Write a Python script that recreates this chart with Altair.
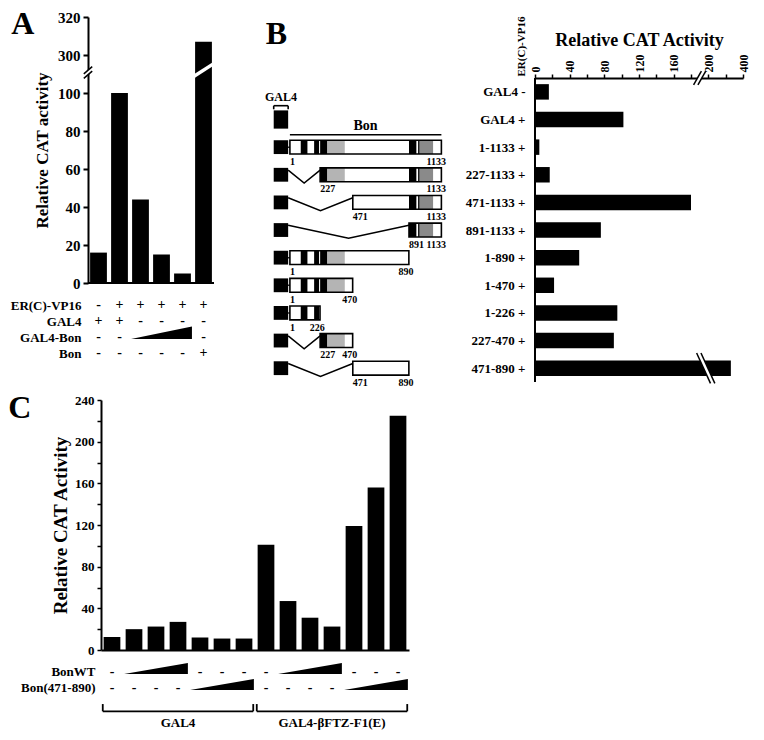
import json
import altair as alt
import pandas as pd

FONT = "Liberation Serif"

# ---------------- Panel A data ----------------
A_LANES = [1, 2, 3, 4, 5, 6]
A_VALUES = [16, 100, 44, 15, 5, 307]
A_ROW_NAMES = ["ER(C)-VP16", "GAL4", "GAL4-Bon", "Bon"]
A_SIGNS = [
    ["-", "+", "+", "+", "+", "+"],
    ["+", "+", "-", "-", "-", "-"],
    ["-", "-", "", "", "", "-"],
    ["-", "-", "-", "-", "-", "+"],
]
A_WEDGES = [(2, 3, 5)]          # (row, first lane, last lane)
A_TICK_LABELS = [0, 20, 40, 60, 80, 100, 300, 320]

# ---------------- Panel B data ----------------
B_NAMES = ["GAL4", "GAL4", "1-1133", "227-1133", "471-1133", "891-1133",
           "1-890", "1-470", "1-226", "227-470", "471-890"]
B_VP16 = ["-", "+", "+", "+", "+", "+", "+", "+", "+", "+", "+"]
B_VALUES = [16, 102, 5, 17, 180, 76, 51, 22, 95, 91, 330]
B_START = [None, None, 1, 227, 471, 891, 1, 1, 1, 227, 471]
B_END = [None, None, 1133, 1133, 1133, 1133, 890, 470, 226, 470, 890]
BON_LENGTH = 1133
DOM_START = [82, 182, 227, 281, 891, 959, 971]
DOM_END = [132, 219, 281, 411, 946, 971, 1071]
DOM_KIND = ["solid", "solid", "solid", "light", "solid", "solid", "dark"]
B_TICK_LABELS = [0, 40, 80, 120, 160, 200, 400]

# ---------------- Panel C data ----------------
C_LANES = list(range(1, 15))
C_VALUES = [12.5, 20, 22.5, 27, 12, 11, 11, 101, 47, 31, 22.5, 119, 156, 225]
C_ROW_NAMES = ["BonWT", "Bon(471-890)"]
C_SIGNS = [
    ["-", "", "", "", "-", "-", "-", "-", "", "", "", "-", "-", "-"],
    ["-", "-", "-", "-", "", "", "", "-", "-", "-", "-", "", "", ""],
]
C_WEDGES = [(0, 2, 4), (0, 9, 11), (1, 5, 7), (1, 12, 14)]
C_GROUPS = ["GAL4", "GAL4-\u03b2FTZ-F1(E)"]
C_GROUP_FIRST = [1, 8]
C_GROUP_LAST = [7, 14]


def arr(lst):
    return json.dumps(lst, ensure_ascii=False)


def text_mark(size, **kw):
    return dict(font=FONT, fontWeight="bold", fontSize=size, color="black", **kw)


def sign_frame(signs, lanes):
    recs = []
    for r, row in enumerate(signs):
        for lane, s in zip(lanes, row):
            if s:
                recs.append({"lane": lane, "row": r, "sign": s})
    return pd.DataFrame(recs)


def wedge_frame(wedges, lo, hi):
    recs = []
    for k, (r, a, b) in enumerate(wedges):
        recs.append({"id": k, "x": a - 0.45, "lo": r + lo, "hi": r + lo})
        recs.append({"id": k, "x": b + 0.45, "lo": r + lo, "hi": r - hi})
    return pd.DataFrame(recs)


def seg_layer(df, xs, ys, xax, yax, color, width):
    return alt.Chart(df).mark_rule(color=color, strokeWidth=width, strokeCap="butt").encode(
        x=alt.X("x:Q", scale=xs, axis=xax), x2="x2",
        y=alt.Y("y:Q", scale=ys, axis=yax), y2="y2")


def panel_letter(letter, offset):
    return alt.TitleParams(letter, orient="left", anchor="end", angle=0, align="right",
                           baseline="alphabetic", dy=24, fontSize=32, offset=offset)


# ======================= Panel A =======================
A_SHIFT, A_CUT = 180, 200
A_BREAK = 110.8
A_LANE_PX = 21          # horizontal size of one lane
A_AXIS_GAP = 13         # axis sits this many px left of the shared plot origin
a_disp = lambda v: v - A_SHIFT if v > A_CUT else v
A_TICKS_D = [a_disp(t) for t in A_TICK_LABELS]
A_X0 = 0.5 + A_AXIS_GAP / A_LANE_PX
xA = alt.Scale(domain=[A_X0, len(A_LANES) + 0.5], nice=False, zero=False)
yA = alt.Scale(domain=[0, max(A_TICKS_D)], nice=False, zero=False)
AW = round((len(A_LANES) + 0.5 - A_X0) * A_LANE_PX)
AH = 266
A_YAX = alt.Axis(
    values=A_TICKS_D, offset=A_AXIS_GAP,
    labelExpr=f"'' + (datum.value > {A_BREAK} ? datum.value + {A_SHIFT} : datum.value)",
    title="Relative CAT activity", titleFontSize=17, titlePadding=6,
    labelFontSize=15, labelPadding=3, tickSize=5, tickWidth=2, domainWidth=2)

dfA = pd.DataFrame({"lane": A_LANES, "value": A_VALUES})
a_bars = alt.Chart(dfA).transform_calculate(
    x="datum.lane - 0.4", x2="datum.lane + 0.4", y2="0",
    y=f"datum.value > {A_CUT} ? datum.value - {A_SHIFT} : datum.value",
).mark_rect(color="black").encode(
    x=alt.X("x:Q", scale=xA, axis=None), x2="x2",
    y=alt.Y("y:Q", scale=yA, axis=A_YAX), y2="y2",
)
a_base = pd.DataFrame({"x": [0.5], "x2": [len(A_LANES) + 0.5], "y": [0], "y2": [0]})
a_white = pd.DataFrame({"x": [0.3, 5.55], "x2": [0.7, 6.45],
                        "y": [A_BREAK - 1.9, 108.8], "y2": [A_BREAK + 1.9, 115.2]})
a_black = pd.DataFrame({"x": [0.3, 0.3], "x2": [0.7, 0.7],
                        "y": [A_BREAK - 3.1, A_BREAK - 0.7], "y2": [A_BREAK + 0.7, A_BREAK + 3.1]})
a_top = alt.layer(
    a_bars,
    seg_layer(a_base, xA, yA, None, A_YAX, "black", 2),
    seg_layer(a_white, xA, yA, None, A_YAX, "white", 3.5),
    seg_layer(a_black, xA, yA, None, A_YAX, "black", 1.5),
).properties(width=AW, height=AH, title=panel_letter("A", -24))

yAt = alt.Scale(domain=[-0.5, len(A_ROW_NAMES) - 0.5], reverse=True, nice=False, zero=False)
A_TAX = alt.Axis(values=list(range(len(A_ROW_NAMES))), labelExpr=f"{arr(A_ROW_NAMES)}[datum.value]",
                 domain=False, ticks=False, title=None, labelFontSize=13, labelPadding=20)
a_signs = alt.Chart(sign_frame(A_SIGNS, A_LANES)).mark_text(**text_mark(14)).encode(
    x=alt.X("lane:Q", scale=xA, axis=None),
    y=alt.Y("row:Q", scale=yAt, axis=A_TAX),
    text="sign:N",
)
a_wedge = alt.Chart(wedge_frame(A_WEDGES, 0.12, 0.65)).mark_area(color="black").encode(
    x=alt.X("x:Q", scale=xA, axis=None),
    y=alt.Y("lo:Q", scale=yAt, axis=A_TAX), y2="hi", detail="id:N")
a_table = alt.layer(a_signs, a_wedge).properties(width=AW, height=64)

a_col = alt.vconcat(a_top, a_table, spacing=6)

# ======================= Panel B =======================
NROW = len(B_NAMES)
ROW_PX = 27.6
HEAD_PX = 61            # header strip above the first row (titles, top axis)
HEAD_ROWS = HEAD_PX / ROW_PX
BH = round(NROW * ROW_PX + HEAD_PX)
yRows = alt.Scale(domain=[-0.5 - HEAD_ROWS, NROW - 0.5], reverse=True, nice=False, zero=False)

# ---- construct diagram ----
GAL4_L, GAL4_R = -120, -12
D_LEFT, D_RIGHT = -200, 1160
xD = alt.Scale(domain=[D_LEFT, D_RIGHT], nice=False, zero=False)
DW = round((D_RIGHT - D_LEFT) * 152 / BON_LENGTH)
diag_rows = [i for i, s in enumerate(B_START) if s is not None]
alone_row = [i for i, s in enumerate(B_START) if s is None][-1]

box_df = pd.DataFrame({"row": diag_rows,
                       "s": [B_START[i] for i in diag_rows],
                       "e": [B_END[i] for i in diag_rows]})
box_df["y1"] = box_df["row"] - 0.25
box_df["y2"] = box_df["row"] + 0.25

dom_recs = []
for i in diag_rows:
    for s, e, k in zip(DOM_START, DOM_END, DOM_KIND):
        s2, e2 = max(s, B_START[i]), min(e, B_END[i])
        if s2 < e2:
            dom_recs.append({"row": i, "s": s2, "e": e2, "kind": k,
                             "y1": i - 0.25, "y2": i + 0.25})
dom_df = pd.DataFrame(dom_recs)

con_recs = []
for i in diag_rows:
    s = B_START[i]
    if s <= 1:
        pts = [(GAL4_R, i), (s, i)]
    else:
        pts = [(GAL4_R, i - 0.17), ((GAL4_R + s) / 2, i + 0.3), (s, i - 0.17)]
    for k, (x, y) in enumerate(pts):
        con_recs.append({"id": i, "k": k, "x": x, "y": y})
con_df = pd.DataFrame(con_recs)

sq_recs = [{"x": GAL4_L, "x2": GAL4_R, "y": i - 0.25, "y2": i + 0.25} for i in diag_rows]
sq_recs.append({"x": GAL4_L, "x2": GAL4_R, "y": alone_row - 0.33, "y2": alone_row + 0.33})
sq_df = pd.DataFrame(sq_recs)

start_lab = pd.DataFrame({"x": [B_START[i] for i in diag_rows],
                          "y": [i + 0.53 for i in diag_rows],
                          "t": [str(B_START[i]) for i in diag_rows]})
end_lab = pd.DataFrame({"x": [B_END[i] + 35 for i in diag_rows],
                        "y": [i + 0.53 for i in diag_rows],
                        "t": [str(B_END[i]) for i in diag_rows]})

first = diag_rows[0]
lines_df = pd.DataFrame({
    "x": [1, GAL4_L, GAL4_L, GAL4_R],
    "x2": [BON_LENGTH, GAL4_R, GAL4_L, GAL4_R],
    "y": [first - 0.45, alone_row - 0.5, alone_row - 0.5, alone_row - 0.5],
    "y2": [first - 0.45, alone_row - 0.5, alone_row - 0.37, alone_row - 0.37],
})
head_lab = pd.DataFrame({"x": [BON_LENGTH / 2, (GAL4_L + GAL4_R) / 2],
                         "y": [first - 0.75, alone_row - 0.8],
                         "t": ["Bon", "GAL4"], "s": [14, 12]})
letter_b = pd.DataFrame({"x": [GAL4_L - 60], "y": [-0.5 - HEAD_ROWS + 0.62], "t": ["B"]})

d_dom = alt.Chart(dom_df).mark_rect().encode(
    x=alt.X("s:Q", scale=xD, axis=None), x2="e",
    y=alt.Y("y1:Q", scale=yRows, axis=None), y2="y2",
    color=alt.Color("kind:N", legend=None, scale=alt.Scale(
        domain=["solid", "light", "dark"], range=["black", "#b4b4b4", "#8a8a8a"])))
d_box = alt.Chart(box_df).mark_rect(fillOpacity=0, stroke="black", strokeWidth=1.6).encode(
    x=alt.X("s:Q", scale=xD, axis=None), x2="e",
    y=alt.Y("y1:Q", scale=yRows, axis=None), y2="y2")
d_con = alt.Chart(con_df).mark_line(color="black", strokeWidth=1.5).encode(
    x=alt.X("x:Q", scale=xD, axis=None), y=alt.Y("y:Q", scale=yRows, axis=None),
    detail="id:N", order="k:Q")
d_sq = alt.Chart(sq_df).mark_rect(color="black").encode(
    x=alt.X("x:Q", scale=xD, axis=None), x2="x2",
    y=alt.Y("y:Q", scale=yRows, axis=None), y2="y2")
d_lines = alt.Chart(lines_df).mark_rule(color="black", strokeWidth=1.6).encode(
    x=alt.X("x:Q", scale=xD, axis=None), x2="x2",
    y=alt.Y("y:Q", scale=yRows, axis=None), y2="y2")
d_start = alt.Chart(start_lab).mark_text(**text_mark(10, align="left")).encode(
    x=alt.X("x:Q", scale=xD, axis=None), y=alt.Y("y:Q", scale=yRows, axis=None), text="t:N")
d_end = alt.Chart(end_lab).mark_text(**text_mark(10, align="right")).encode(
    x=alt.X("x:Q", scale=xD, axis=None), y=alt.Y("y:Q", scale=yRows, axis=None), text="t:N")
d_head = alt.Chart(head_lab).mark_text(font=FONT, fontWeight="bold", color="black").encode(
    x=alt.X("x:Q", scale=xD, axis=None), y=alt.Y("y:Q", scale=yRows, axis=None), text="t:N",
    size=alt.Size("s:Q", scale=None, legend=None))
d_letter = alt.Chart(letter_b).mark_text(**text_mark(32, align="left")).encode(
    x=alt.X("x:Q", scale=xD, axis=None), y=alt.Y("y:Q", scale=yRows, axis=None), text="t:N")

b_diag = alt.layer(d_con, d_dom, d_box, d_sq, d_lines, d_start, d_end, d_head, d_letter).properties(
    width=DW, height=BH)

# ---- bar chart ----
B_CUT, B_COMP = 200, 0.2
b_disp = lambda v: v if v <= B_CUT else B_CUT + (v - B_CUT) * B_COMP
B_TICK_VALUES = [b_disp(v) for v in list(range(0, B_CUT + 1, 20)) + [300, 400]]
B_LABEL_POS = [b_disp(v) for v in B_TICK_LABELS]
xB = alt.Scale(domain=[0, b_disp(max(B_TICK_LABELS))], nice=False, zero=False)
B_ROW_LABELS = [f"{n} {s}" for n, s in zip(B_NAMES, B_VP16)]
B_XAX = alt.Axis(
    orient="top", values=B_TICK_VALUES, offset=-HEAD_PX,
    labelExpr=(f"indexof({arr(B_LABEL_POS)}, datum.value) >= 0 ? '' + "
               f"(datum.value > {B_CUT} ? round({B_CUT} + (datum.value - {B_CUT}) / {B_COMP}) "
               f": datum.value) : ''"),
    labelAngle=270, labelAlign="left", labelBaseline="middle", labelFontSize=12,
    labelPadding=2, tickSize=4, tickWidth=1.5, domainWidth=2,
    title="Relative CAT Activity", titleFontSize=18, titlePadding=5)
B_YAX = alt.Axis(
    values=list(range(NROW)), labelExpr=f"{arr(B_ROW_LABELS)}[datum.value]",
    ticks=False, domain=False, labelFontSize=13, labelPadding=10,
    title="ER(C)-VP16", titleAngle=270, titleX=-14, titleY=HEAD_PX - 2,
    titleAlign="left", titleBaseline="middle", titleFontSize=11)

dfB = pd.DataFrame({"row": list(range(NROW)), "value": B_VALUES})
b_main = alt.Chart(dfB).transform_calculate(
    x="0",
    x2=f"datum.value > {B_CUT} ? {B_CUT} + (datum.value - {B_CUT}) * {B_COMP} : datum.value",
    y="datum.row - 0.28", y2="datum.row + 0.28",
).mark_rect(color="black").encode(
    x=alt.X("x:Q", scale=xB, axis=B_XAX), x2="x2",
    y=alt.Y("y:Q", scale=yRows, axis=B_YAX), y2="y2",
)
b_axis_line = pd.DataFrame({"x": [0], "x2": [0], "y": [-0.5], "y2": [NROW - 0.5]})
BX, BB = 190, 197
b_white = pd.DataFrame({"x": [BX - 4.5, BB - 8], "x2": [BX + 4.5, BB + 8],
                        "y": [-0.25, NROW - 1.55], "y2": [-0.75, NROW - 0.45]})
b_black = pd.DataFrame({
    "x": [BX - 7, BX - 2, BB - 10.5, BB - 5.5],
    "x2": [BX + 2, BX + 7, BB + 5.5, BB + 10.5],
    "y": [-0.25, -0.25, NROW - 1.55, NROW - 1.55],
    "y2": [-0.75, -0.75, NROW - 0.45, NROW - 0.45]})
b_bars = alt.layer(
    b_main,
    seg_layer(b_axis_line, xB, yRows, B_XAX, B_YAX, "black", 2),
    seg_layer(b_white, xB, yRows, B_XAX, B_YAX, "white", 4),
    seg_layer(b_black, xB, yRows, B_XAX, B_YAX, "black", 1.5),
).properties(width=208, height=BH)

b_group = alt.hconcat(b_diag, b_bars, spacing=18)

# ======================= Panel C =======================
xC = alt.Scale(domain=[0.5, len(C_LANES) + 0.5], nice=False, zero=False)
yC = alt.Scale(domain=[0, 240], nice=False, zero=False)
CW = 308
dfC = pd.DataFrame({"lane": C_LANES, "value": C_VALUES})
c_bars = alt.Chart(dfC).transform_calculate(
    xl="datum.lane - 0.38", xr="datum.lane + 0.38", z="0",
).mark_rect(color="black").encode(
    x=alt.X("xl:Q", scale=xC, axis=alt.Axis(title=None, labels=False, ticks=False, domainWidth=2)),
    x2="xr",
    y=alt.Y("value:Q", scale=yC, axis=alt.Axis(
        values=list(range(0, 241, 20)), labelExpr="datum.value % 40 == 0 ? datum.label : ''",
        title="Relative CAT Activity", titleFontSize=19, titlePadding=4,
        labelFontSize=13, labelPadding=3, tickSize=4, tickWidth=1.5, domainWidth=2)),
    y2="z",
).properties(width=CW, height=250, title=panel_letter("C", -3))

yCt = alt.Scale(domain=[-0.55, 3.55], reverse=True, nice=False, zero=False)
C_TAX = alt.Axis(values=list(range(len(C_ROW_NAMES))), labelExpr=f"{arr(C_ROW_NAMES)}[datum.value]",
                 domain=False, ticks=False, title=None, labelFontSize=13, labelPadding=6)
c_signs = alt.Chart(sign_frame(C_SIGNS, C_LANES)).mark_text(**text_mark(14)).encode(
    x=alt.X("lane:Q", scale=xC, axis=None),
    y=alt.Y("row:Q", scale=yCt, axis=C_TAX),
    text="sign:N",
)
c_wedge = alt.Chart(wedge_frame(C_WEDGES, 0.13, 0.55)).mark_area(color="black").encode(
    x=alt.X("x:Q", scale=xC, axis=None),
    y=alt.Y("lo:Q", scale=yCt, axis=C_TAX), y2="hi", detail="id:N")
br = pd.DataFrame({
    "x": [f - 0.42 for f in C_GROUP_FIRST] + [f - 0.42 for f in C_GROUP_FIRST] + [l + 0.42 for l in C_GROUP_LAST],
    "x2": [l + 0.42 for l in C_GROUP_LAST] + [f - 0.42 for f in C_GROUP_FIRST] + [l + 0.42 for l in C_GROUP_LAST],
    "y": [2.45] * 6,
    "y2": [2.45] * 2 + [2.0] * 4,
})
c_br = alt.Chart(br).mark_rule(color="black", strokeWidth=1.8).encode(
    x=alt.X("x:Q", scale=xC, axis=None), x2="x2",
    y=alt.Y("y:Q", scale=yCt, axis=C_TAX), y2="y2")
grp = pd.DataFrame({"x": [(f + l) / 2 for f, l in zip(C_GROUP_FIRST, C_GROUP_LAST)],
                    "y": [3.2] * len(C_GROUPS), "t": C_GROUPS})
c_grp = alt.Chart(grp).mark_text(**text_mark(13)).encode(
    x=alt.X("x:Q", scale=xC, axis=None), y=alt.Y("y:Q", scale=yCt, axis=C_TAX), text="t:N")
c_table = alt.layer(c_signs, c_wedge, c_br, c_grp).properties(width=CW, height=66)

c_col = alt.vconcat(c_bars, c_table, spacing=6)

# ======================= Assemble =======================
top = alt.hconcat(a_col, b_group, spacing=48)
chart = alt.vconcat(top, c_col, spacing=4).properties(
    padding={"left": 0, "top": 0, "right": 6, "bottom": 0}
).configure_view(
    stroke=None
).configure_axis(
    grid=False, labelFont=FONT, titleFont=FONT, labelFontWeight="bold",
    titleFontWeight="bold", labelColor="black", titleColor="black",
    domainColor="black", tickColor="black",
).configure_title(font=FONT, fontWeight="bold", color="black")

chart.save("out.html", embed_options={"renderer": "svg", "actions": False})
